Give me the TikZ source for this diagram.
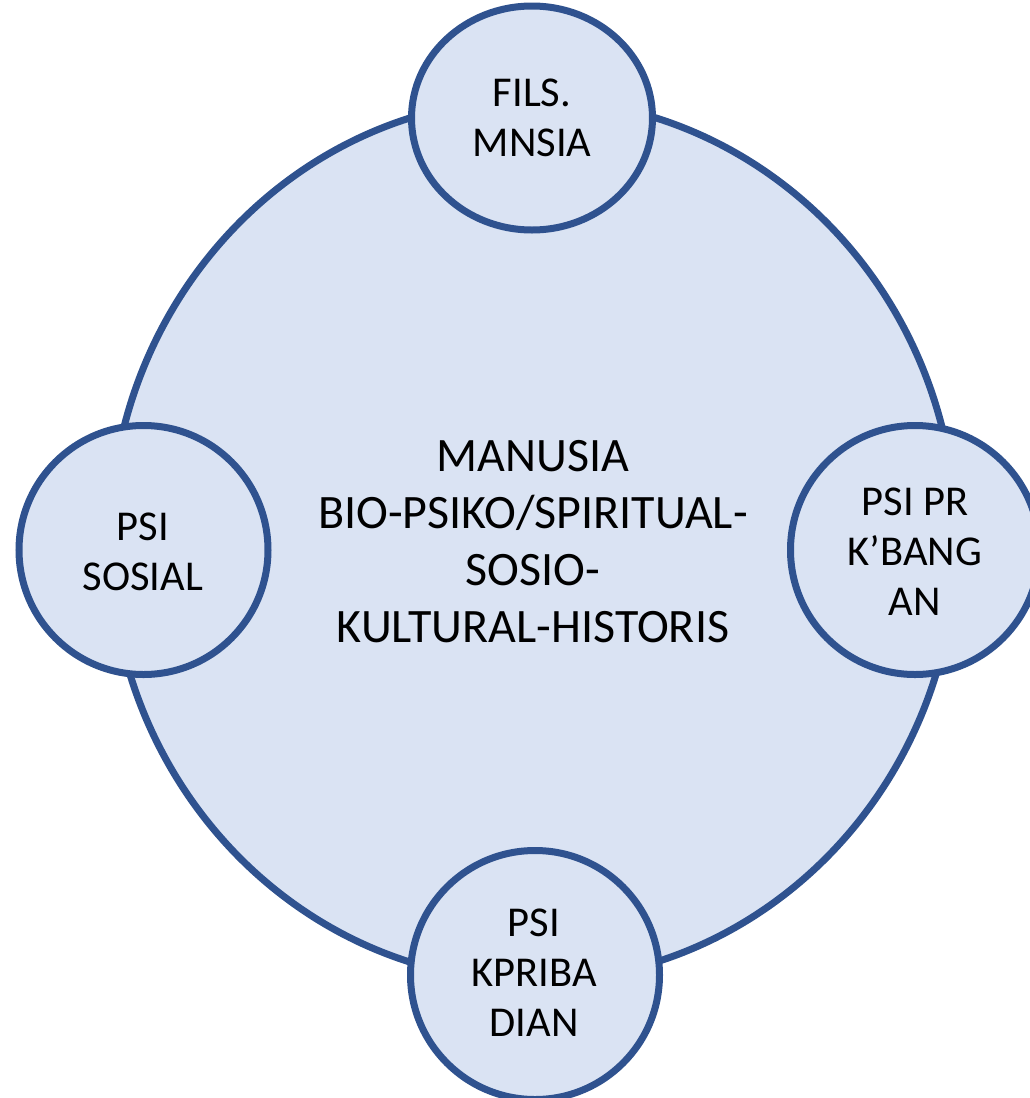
\documentclass[tikz,border=0pt]{standalone}
\usepackage{fontspec}
\setmainfont{Carlito}
\definecolor{ringfill}{HTML}{DAE3F3}
\definecolor{ringline}{HTML}{2F528F}
\begin{document}
\begin{tikzpicture}[x=1pt,y=-1pt,
  ring/.style={fill=ringfill,draw=ringline,line width=7pt},
  smalltext/.style={align=center,inner sep=0pt,font=\fontsize{42.5}{50}\selectfont},
  bigtext/.style={align=center,inner sep=0pt,font=\fontsize{48}{57}\selectfont}]
\useasboundingbox (0,0) rectangle (1030,1098);
\clip (0,0) rectangle (1030,1098);
% big circle
\draw[ring] (533,540) ellipse [x radius=423,y radius=441];
% small circles
\draw[ring] (532,118) ellipse [x radius=120.5,y radius=112];
\draw[ring] (143.5,550) circle [radius=124.5];
\draw[ring] (915,550) circle [radius=124.5];
\draw[ring] (535,975) circle [radius=124.5];
% texts
\node[bigtext] (manusia) at (533,542) {MANUSIA\\BIO-PSIKO/SPIRITUAL-\\SOSIO-\\KULTURAL-HISTORIS};
\node[smalltext] (filsafat) at (532,118) {FILS.\\MNSIA};
\node[smalltext] (sosial) at (143,552) {PSI\\SOSIAL};
\node[smalltext] (kembang) at (915,552) {PSI PR\\K’BANG\\AN};
\node[smalltext] (pribadi) at (534,973) {PSI\\KPRIBA\\DIAN};
\end{tikzpicture}
\end{document}
